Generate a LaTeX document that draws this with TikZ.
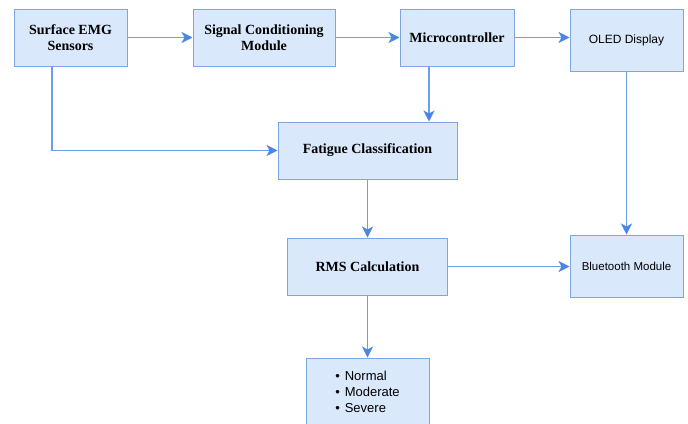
\documentclass[tikz,border=0pt]{standalone}
\usepackage{fontspec}
\setmainfont{Liberation Serif}
\setsansfont{Liberation Sans}
\definecolor{boxfill}{HTML}{DAE8FC}
\definecolor{boxline}{HTML}{7EA6E0}
\definecolor{linkblue}{HTML}{6D9EEB}
\definecolor{tipblue}{HTML}{4A86E8}
\usetikzlibrary{arrows.meta, positioning, calc}

\tikzset{
  block/.style={draw=boxline, fill=boxfill, line width=1pt, align=center, inner sep=2pt,
    font=\fontsize{14}{16.5}\selectfont\bfseries},
  sansblock/.style={block, font=\fontsize{12}{14}\selectfont\sffamily},
  link/.style={draw=linkblue, line width=1.4pt,
    -{Stealth[length=11pt, width=11pt, inset=3pt, fill=tipblue, color=tipblue]}}
}

\begin{document}
\begin{tikzpicture}[x=1pt, y=-1pt]
  \clip (0,0) rectangle (688,423);
  \fill[white] (0,0) rectangle (688,423);

  % top row
  \node[block, minimum width=113pt, minimum height=57pt] (emg) at (70.5,37.5) {Surface EMG\\Sensors};
  \node[block, minimum width=142pt, minimum height=57pt] (cond) at (264,37.5) {Signal Conditioning\\Module};
  \node[block, minimum width=114pt, minimum height=57pt] (mcu) at (457,37.5) {Microcontroller};
  \node[sansblock, minimum width=113pt, minimum height=62pt] (oled) at (626.5,40) {OLED Display};

  % middle
  \node[block, minimum width=179pt, minimum height=57pt] (fatigue) at (367.5,150.5) {Fatigue Classification};
  \node[block, minimum width=160pt, minimum height=57pt] (rms) at (367.5,266.5) {RMS Calculation};
  \node[sansblock, minimum width=113pt, minimum height=62pt, font=\fontsize{11.5}{14}\selectfont\sffamily] (bt) at (626.5,266) {Bluetooth Module};

  % levels
  \node[block, minimum width=123pt, minimum height=68pt, align=left,
    font=\fontsize{13}{16}\selectfont\sffamily] (levels) at (367.5,392)
    {\textbullet\hspace{5pt}Normal\\\textbullet\hspace{5pt}Moderate\\\textbullet\hspace{5pt}Severe};

  % connectors
  \draw[link] (emg.east) -- (cond.west);
  \draw[link] (cond.east) -- (mcu.west);
  \draw[link] (mcu.east) -- (mcu.east -| oled.west);
  \draw[link] ([xshift=-18.5pt]emg.south) |- (fatigue.west);
  \draw[link] ([xshift=-28pt]mcu.south) -- ([xshift=-28pt]mcu.south |- fatigue.north);
  \draw[link] (fatigue.south) -- (rms.north);
  \draw[link] (oled.south) -- (bt.north);
  \draw[link] (rms.east) -- (rms.east -| bt.west);
  \draw[link] (rms.south) -- (levels.north);
\end{tikzpicture}
\end{document}
